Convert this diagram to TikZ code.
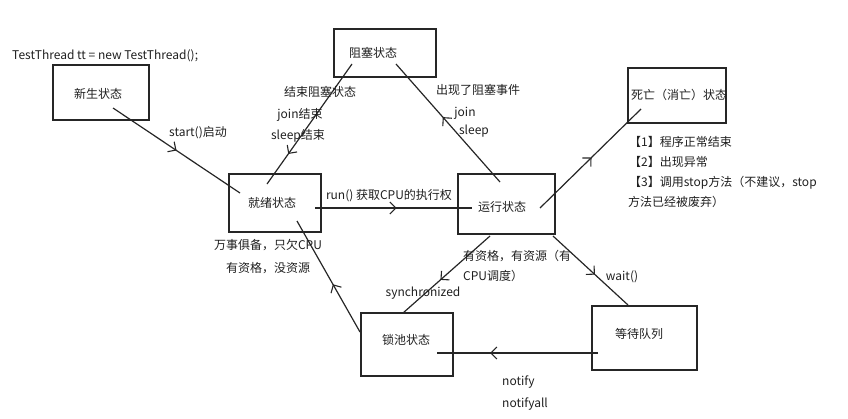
\documentclass[tikz,border=0pt]{standalone}
\usepackage{fontspec}
\setmainfont{Noto Sans CJK SC}
\usetikzlibrary{arrows.meta,decorations.markings}
\tikzset{
  box/.style={draw=black!85, line width=1.6pt, inner sep=0pt},
  lbl/.style={inner sep=0pt, text height=0.88em, text depth=0.12em, font=\fontsize{12}{14}\selectfont, text=black!88},
  conn/.style={draw=black!85, line width=1.2pt},
  arr/.style={postaction={decorate}, decoration={markings, mark=at position #1 with {\arrow{Straight Barb[length=6pt,width=12pt,line width=1.1pt]}}}}
}
\begin{document}
\begin{tikzpicture}[x=1pt,y=-1pt]
\useasboundingbox (0,0) rectangle (848,418);
% boxes
\node[box, minimum width=96, minimum height=55] (xs) at (101,92.5) {};
\node[box, minimum width=102, minimum height=48] (zs) at (385,53) {};
\node[box, minimum width=92, minimum height=58] (jx) at (275,203) {};
\node[box, minimum width=97, minimum height=60] (yx) at (506.5,204) {};
\node[box, minimum width=98, minimum height=55] (sw) at (677,95.5) {};
\node[box, minimum width=92, minimum height=63] (sc) at (407,344.5) {};
\node[box, minimum width=105, minimum height=64] (dd) at (644.5,338) {};
% box labels
\node[lbl] (xs-t) at (98,95) {新生状态};
\node[lbl] (zs-t) at (373,54) {阻塞状态};
\node[lbl] (jx-t) at (272,204) {就绪状态};
\node[lbl] (yx-t) at (502,208) {运行状态};
\node[lbl] (sw-t) at (679,96) {死亡（消亡）状态};
\node[lbl] (sc-t) at (406,341) {锁池状态};
\node[lbl] (dd-t) at (639,335) {等待队列};
% connector end points
\coordinate (xs-a) at (113,108);
\coordinate (jx-a) at (240,193);
\coordinate (jx-b) at (267,184);
\coordinate (zs-b) at (352,64);
\coordinate (zs-c) at (396,64);
\coordinate (yx-c) at (500,182);
\coordinate (jx-d) at (315,208);
\coordinate (yx-d) at (472,208);
\coordinate (yx-e) at (540,208);
\coordinate (sw-e) at (641,109);
\coordinate (yx-f) at (490,236);
\coordinate (sc-f) at (403,313);
\coordinate (yx-g) at (553,236);
\coordinate (dd-g) at (628,305);
\coordinate (dd-h) at (598,353);
\coordinate (sc-h) at (437,353);
\coordinate (sc-i) at (360,332);
\coordinate (jx-i) at (297,221);
% connectors
\draw[conn, arr=0.5] (xs-a) -- (jx-a);
\draw[conn, arr=0.75] (zs-b) -- (jx-b);
\draw[conn, arr=0.55] (yx-c) -- (zs-c);
\draw[conn, arr=0.52] (jx-d) -- (yx-d);
\draw[conn, arr=0.51] (yx-e) -- (sw-e);
\draw[conn, arr=0.57] (yx-f) -- (sc-f);
\draw[conn, arr=0.56] (yx-g) -- (dd-g);
\draw[conn, arr=0.67] (dd-h) -- (sc-h);
\draw[conn, arr=0.43] (sc-i) -- (jx-i);
% texts
\node[lbl, anchor=west] (code) at (12,56) {TestThread tt = new TestThread();};
\node[lbl] (t1) at (198,133) {start()启动};
\node[lbl] (t2) at (320,93) {结束阻塞状态};
\node[lbl] (t3) at (300,115) {join结束};
\node[lbl] (t4) at (298,136) {sleep结束};
\node[lbl] (t5) at (478,91) {出现了阻塞事件};
\node[lbl] (t6) at (465,113) {join};
\node[lbl] (t7) at (474,131) {sleep};
\node[lbl, anchor=west] (d1) at (629,143) {【1】程序正常结束};
\node[lbl, anchor=west] (d2) at (629,163) {【2】出现异常};
\node[lbl, anchor=west] (d3) at (629,183) {【3】调用stop方法（不建议，stop};
\node[lbl, anchor=west] (d4) at (628,203) {方法已经被废弃）};
\node[lbl] (t8) at (389,196) {run() 获取CPU的执行权};
\node[lbl] (t9) at (268,246) {万事俱备，只欠CPU};
\node[lbl] (t10) at (268,269) {有资格，没资源};
\node[lbl, anchor=west] (t11) at (463,257) {有资格，有资源（有};
\node[lbl, anchor=west] (t12) at (463,277) {CPU调度）};
\node[lbl] (t13) at (423,293) {synchronized};
\node[lbl] (t14) at (622,277) {wait()};
\node[lbl, anchor=west] (t15) at (502,382) {notify};
\node[lbl, anchor=west] (t16) at (502,404) {notifyall};
\end{tikzpicture}
\end{document}
